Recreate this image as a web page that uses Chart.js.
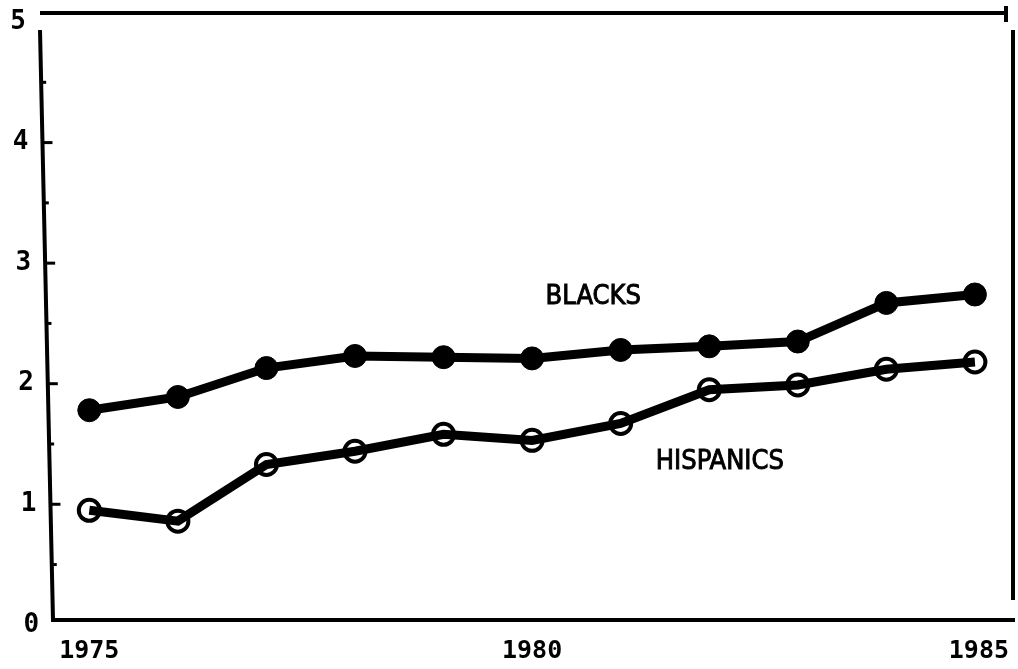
<!DOCTYPE html>
<html>
<head>
<meta charset="utf-8">
<script src="https://cdn.jsdelivr.net/npm/chart.js@4.4.1/dist/chart.umd.min.js"></script>
<style>
  html, body { margin: 0; padding: 0; background: #fff; overflow: hidden; }
  canvas { display: block; }
</style>
</head>
<body>
<canvas id="chart" width="1018" height="669"></canvas>
<script>
// --- data ---
const years = [1975, 1976, 1977, 1978, 1979, 1980, 1981, 1982, 1983, 1984, 1985];
const blacks = [1.78, 1.89, 2.13, 2.23, 2.22, 2.21, 2.28, 2.31, 2.35, 2.67, 2.74];
const hispanics = [0.95, 0.86, 1.33, 1.44, 1.58, 1.53, 1.67, 1.95, 1.99, 2.12, 2.18];
const xTicks = [1975, 1980, 1985];
const yTicks = [0, 1, 2, 3, 4, 5];
const seriesNames = ['BLACKS', 'HISPANICS'];
const labelSpots = [{ x: 1980.69, y: 2.72 }, { x: 1982.12, y: 1.35 }];

// the hand drawn left axis leans a little: x of the line at a given pixel height
function leftAxisX(a, py) {
  const t = (py - (a.top + 17)) / (a.bottom - (a.top + 17));
  return a.left - 13 * (1 - t);
}

// frame lines, inward ticks, tick labels and the two series names
const framePlugin = {
  id: 'frame',
  afterDatasetsDraw(chart) {
    const { ctx, chartArea: a, scales } = chart;
    const x = scales.x, y = scales.y;
    ctx.save();
    ctx.strokeStyle = '#000';
    ctx.lineCap = 'butt';
    ctx.lineWidth = 4;
    ctx.beginPath();
    ctx.moveTo(a.left - 13, a.top); ctx.lineTo(a.right - 7, a.top);
    ctx.moveTo(a.right - 7, a.top - 7); ctx.lineTo(a.right - 7, a.top + 9);
    ctx.moveTo(a.right, a.top + 17); ctx.lineTo(a.right, a.bottom - 20);
    ctx.moveTo(a.left - 13, a.top + 17); ctx.lineTo(a.left, a.bottom);
    ctx.lineTo(a.right + 2, a.bottom);
    ctx.stroke();

    ctx.lineWidth = 3;
    for (let v = 0.5; v < 5; v += 0.5) {
      const py = y.getPixelForValue(v);
      const len = Number.isInteger(v) ? 10 : 5;
      const px = leftAxisX(a, py);
      ctx.beginPath();
      ctx.moveTo(px, py); ctx.lineTo(px + len, py);
      ctx.stroke();
    }

    ctx.fillStyle = '#000';
    ctx.font = 'bold 26px "DejaVu Sans Mono"';
    ctx.textAlign = 'right';
    ctx.textBaseline = 'middle';
    yTicks.forEach(v => {
      const py = y.getPixelForValue(v);
      ctx.fillText(String(v), leftAxisX(a, py) - 14, py);
    });

    ctx.font = 'bold 25px "DejaVu Sans Mono"';
    ctx.textAlign = 'center';
    xTicks.forEach((v, i) => {
      const shift = i === xTicks.length - 1 ? 4 : 0;
      ctx.fillText(String(v), x.getPixelForValue(v) + shift, a.bottom + 31);
    });

    ctx.font = '27px "Liberation Sans Narrow", "DejaVu Sans Condensed", sans-serif';
    ctx.lineWidth = 0.9;
    seriesNames.forEach((n, i) => {
      const px = x.getPixelForValue(labelSpots[i].x);
      const py = y.getPixelForValue(labelSpots[i].y);
      ctx.fillText(n, px, py);
      ctx.strokeText(n, px, py);
    });
    ctx.restore();
  }
};

new Chart(document.getElementById('chart'), {
  type: 'line',
  data: {
    datasets: [
      {
        label: seriesNames[0],
        data: years.map((yr, i) => ({ x: yr, y: blacks[i] })),
        borderColor: '#000',
        borderWidth: 9,
        pointRadius: 11.5,
        pointBackgroundColor: '#000',
        pointBorderColor: '#000',
        pointBorderWidth: 1,
        tension: 0
      },
      {
        label: seriesNames[1],
        data: years.map((yr, i) => ({ x: yr, y: hispanics[i] })),
        borderColor: '#000',
        borderWidth: 9,
        pointRadius: 10.5,
        pointBackgroundColor: 'rgba(255,255,255,0)',
        pointBorderColor: '#000',
        pointBorderWidth: 4,
        tension: 0
      }
    ]
  },
  options: {
    responsive: false,
    animation: false,
    layout: { autoPadding: false, padding: { top: 13, right: 5, left: 0, bottom: 0 } },
    plugins: { legend: { display: false }, tooltip: { enabled: false } },
    scales: {
      x: {
        type: 'linear',
        min: 1974.59,
        max: 1985.43,
        afterBuildTicks: s => { s.ticks = xTicks.map(v => ({ value: v })); },
        afterFit: s => { s.height = 49; },
        ticks: { display: false },
        grid: { display: false },
        border: { display: false }
      },
      y: {
        min: 0.04,
        max: 5.075,
        afterBuildTicks: s => { s.ticks = yTicks.map(v => ({ value: v })); },
        afterFit: s => { s.width = 53; },
        ticks: { display: false },
        grid: { display: false },
        border: { display: false }
      }
    }
  },
  plugins: [framePlugin]
});
</script>
</body>
</html>
